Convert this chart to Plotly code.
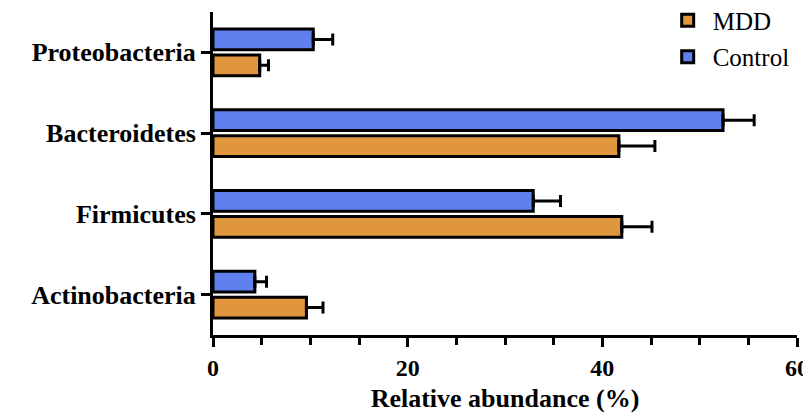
import plotly.graph_objects as go

categories = ["Actinobacteria", "Firmicutes", "Bacteroidetes", "Proteobacteria"]
mdd_values = [9.6, 42.0, 41.7, 4.8]
mdd_errors = [1.7, 3.1, 3.7, 0.9]
control_values = [4.3, 32.9, 52.4, 10.3]
control_errors = [1.2, 2.8, 3.2, 2.0]
series_names = ["MDD", "Control"]
x_tick_values = [0, 20, 40, 60]

FONT = "Times New Roman, Liberation Serif, serif"
mdd_color = "#E0963C"
control_color = "#5F80EF"

fig = go.Figure()
for name, vals, errs, col, grp in [
    (series_names[0], mdd_values, mdd_errors, mdd_color, "a"),
    (series_names[1], control_values, control_errors, control_color, "b"),
]:
    fig.add_trace(go.Bar(
        x=vals, y=categories, orientation="h",
        name=name,
        legendgroup=grp,
        marker=dict(color=col, line=dict(color="black", width=3)),
        error_x=dict(type="data", array=errs, arrayminus=[0] * len(errs),
                     symmetric=False, color="black", thickness=3, width=6),
    ))

fig.update_layout(
    width=811, height=417,
    margin=dict(l=205, r=22, t=4, b=90, autoexpand=False),
    paper_bgcolor="white", plot_bgcolor="white",
    font=dict(family=FONT, color="black"),
    barmode="group", bargap=0.36, bargroupgap=0.2,
    showlegend=True,
    legend=dict(x=0.77, y=1.045, xanchor="left", yanchor="top",
                font=dict(family=FONT, size=25, color="black"),
                traceorder="grouped", tracegroupgap=1,
                itemwidth=40,
                bgcolor="rgba(0,0,0,0)"),
    xaxis=dict(range=[0, 60], tickvals=x_tick_values, showgrid=False,
               zeroline=False, showline=True, linecolor="black", linewidth=3,
               ticks="outside", ticklen=9, tickwidth=3, tickcolor="black",
               tickfont=dict(family=FONT, size=24, color="black", weight="bold"),
               minor=dict(dtick=5, ticks="outside", ticklen=7, tickwidth=3, tickcolor="black"),
               title=dict(text="Relative abundance (%)", standoff=10,
                          font=dict(family=FONT, size=26, color="black", weight="bold"))),
    yaxis=dict(showgrid=False, zeroline=False, showline=True, linecolor="black",
               linewidth=3, ticks="outside", ticklen=9, tickwidth=3, tickcolor="black",
               categoryorder="array", categoryarray=categories,
               tickfont=dict(family=FONT, size=26, color="black", weight="bold")),
)

fig.write_html("out.html")
